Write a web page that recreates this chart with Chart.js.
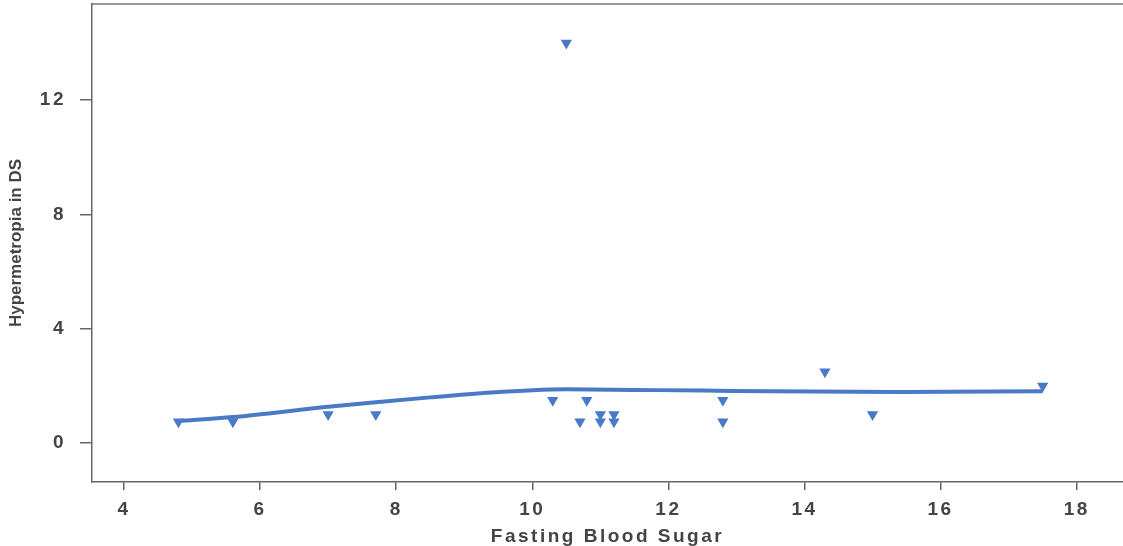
<!DOCTYPE html>
<html>
<head>
<meta charset="utf-8">
<script src="https://cdn.jsdelivr.net/npm/chart.js@4/dist/chart.umd.min.js"></script>
<style>
  html, body { margin: 0; padding: 0; background: #fff; overflow: hidden; }
</style>
</head>
<body>
<canvas id="myChart" width="1123" height="546"></canvas>
<script>
// scatter points
const fbsX = [4.8, 5.6, 7.0, 7.7, 10.3, 10.5, 10.7, 10.8, 11.0, 11.0, 11.2, 11.2, 12.8, 12.8, 14.3, 15.0, 17.5];
const hypY = [0.75, 0.75, 1.0, 1.0, 1.5, 14.0, 0.75, 1.5, 1.0, 0.75, 1.0, 0.75, 1.5, 0.75, 2.5, 1.0, 2.0];

// smoothed fit line
const fitX = [4.8, 5.6, 7.0, 7.7, 8.5, 9.4, 10.0, 10.5, 11.5, 12.5, 13.5, 15.4, 17.5];
const fitY = [0.77, 0.91, 1.27, 1.43, 1.6, 1.77, 1.85, 1.88, 1.86, 1.84, 1.81, 1.79, 1.81];

const xTicks = [4, 6, 8, 10, 12, 14, 16, 18];
const yTicks = [0, 4, 8, 12];

const blue = 'rgb(72,122,198)';
const textCol = '#444444';
const spacing = '2.5px';

const points = fbsX.map((x, i) => ({ x: x, y: hypY[i] }));
const fit = fitX.map((x, i) => ({ x: x, y: fitY[i] }));

// wide text like the scan, plus the top frame line
const frame = {
    id: 'frame',
    beforeUpdate(chart) { chart.ctx.letterSpacing = spacing; },
    beforeDraw(chart) { chart.ctx.letterSpacing = spacing; },
    afterDraw(chart) {
        const ctx = chart.ctx, a = chart.chartArea;
        ctx.save();
        ctx.strokeStyle = '#777';
        ctx.lineWidth = 1.5;
        ctx.beginPath();
        ctx.moveTo(a.left, a.top);
        ctx.lineTo(chart.width, a.top);
        ctx.stroke();
        ctx.restore();
    }
};

// y title is tighter than the rest
function tightTitle(s) {
    if (s._tight) return;
    s._tight = true;
    const orig = s.drawTitle.bind(s);
    s.drawTitle = function () {
        const c = this.ctx;
        const old = c.letterSpacing;
        c.letterSpacing = '0px';
        orig();
        c.letterSpacing = old;
    };
}

const ctx = document.getElementById('myChart').getContext('2d');
const myChart = new Chart(ctx, {
    type: 'scatter',
    data: {
        datasets: [{
            label: 'fit',
            data: fit,
            showLine: true,
            borderColor: blue,
            borderWidth: 4,
            pointRadius: 0,
            cubicInterpolationMode: 'monotone',
            order: 2
        }, {
            label: 'Hypermetropia',
            data: points,
            pointStyle: 'triangle',
            rotation: 180,
            pointRadius: 6.5,
            backgroundColor: blue,
            borderColor: blue,
            borderWidth: 0,
            order: 1
        }]
    },
    options: {
        responsive: false,
        animation: false,
        layout: { autoPadding: false, padding: { top: 4, right: 0, left: 0, bottom: 0 } },
        plugins: { legend: { display: false }, tooltip: { enabled: false } },
        scales: {
            x: {
                type: 'linear',
                min: 3.53,
                max: 18.68,
                afterBuildTicks: s => { s.ticks = xTicks.map(v => ({ value: v })); },
                afterFit: s => { s.height = 64; s.paddingLeft = 0; s.paddingRight = 0; },
                grid: { drawOnChartArea: false, drawTicks: true, tickLength: 8, color: '#666', lineWidth: 1.5 },
                border: { color: '#666', width: 1.5 },
                ticks: { color: textCol, padding: 8, font: { family: 'Liberation Sans', size: 19, weight: 'bold' }, maxRotation: 0 },
                title: { display: true, text: 'Fasting Blood Sugar', color: textCol, font: { family: 'Liberation Sans', size: 19, weight: 'bold' }, padding: { top: 0, bottom: -2 } }
            },
            y: {
                min: -1.36,
                max: 15.36,
                afterBuildTicks: s => { s.ticks = yTicks.map(v => ({ value: v })); tightTitle(s); },
                afterFit: s => { s.width = 92; s.paddingTop = 0; s.paddingBottom = 0; },
                grid: { drawOnChartArea: false, drawTicks: true, tickLength: 12, color: '#666', lineWidth: 1.5 },
                border: { color: '#666', width: 1.5 },
                ticks: { color: textCol, padding: 14, font: { family: 'Liberation Sans', size: 19, weight: 'bold' } },
                title: { display: true, text: 'Hypermetropia in DS', color: textCol, font: { family: 'Liberation Sans', size: 17, weight: 'bold' }, padding: { top: 6, bottom: 0 } }
            }
        }
    },
    plugins: [frame]
});
</script>
</body>
</html>
